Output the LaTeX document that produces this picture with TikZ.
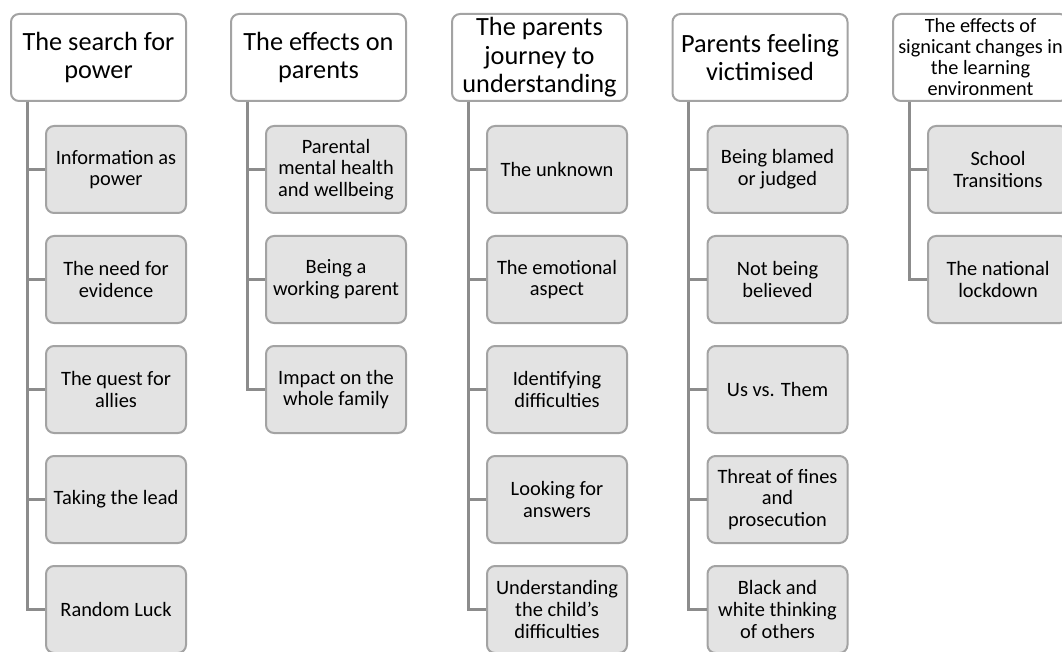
\documentclass[tikz,border=0pt]{standalone}
\usepackage{fontspec}
\setmainfont{Carlito}
\definecolor{bordergray}{HTML}{A3A3A3}
\definecolor{leafgray}{HTML}{E3E3E3}
\definecolor{linegray}{HTML}{8C8C8C}
\tikzset{
  hdr/.style={draw=bordergray, fill=white, rounded corners=8pt, line width=2pt,
    minimum width=175pt, minimum height=87pt, inner sep=1pt, align=center,
    font=\fontsize{26.3}{28.5}\selectfont},
  hdrsmall/.style={hdr, font=\fontsize{20.3}{21}\selectfont},
  leaf/.style={draw=bordergray, fill=leafgray, rounded corners=8pt, line width=2pt,
    minimum width=140pt, minimum height=87pt, inner sep=1pt, align=center,
    font=\fontsize{20.4}{21.7}\selectfont},
  conn/.style={draw=linegray, line width=3pt}
}
\begin{document}
\begin{tikzpicture}[x=1pt,y=-1pt]
\useasboundingbox (0,0) rectangle (1062,652);
\clip (0,0) rectangle (1062,652);
% column 1
\node[hdr] (h1) at (98.5,57.5) {The search for\\power};
\node[leaf] (c11) at (116,169.5) {Information as\\power};
\node[leaf] (c12) at (116,279.5) {The need for\\evidence};
\node[leaf] (c13) at (116,389.5) {The quest for\\allies};
\node[leaf] (c14) at (116,499.5) {Taking the lead};
\node[leaf] (c15) at (116,609.5) {Random Luck};
% column 2
\node[hdr] (h2) at (318.5,57.5) {The effects on\\parents};
\node[leaf] (c21) at (336,169.5) {Parental\\mental health\\and wellbeing};
\node[leaf] (c22) at (336,279.5) {Being a\\working parent};
\node[leaf] (c23) at (336,389.5) {Impact on the\\whole family};
% column 3
\node[hdr] (h3) at (539.5,57.5) {The parents\\journey to\\understanding};
\node[leaf] (c31) at (557,169.5) {The unknown};
\node[leaf] (c32) at (557,279.5) {The emotional\\aspect};
\node[leaf] (c33) at (557,389.5) {Identifying\\difficulties};
\node[leaf] (c34) at (557,499.5) {Looking for\\answers};
\node[leaf] (c35) at (557,609.5) {Understanding\\the child\symbol{"27}s\\difficulties};
% column 4
\node[hdr] (h4) at (760,57.5) {Parents feeling\\victimised};
\node[leaf] (c41) at (777.5,169.5) {Being blamed\\or judged};
\node[leaf] (c42) at (777.5,279.5) {Not being\\believed};
\node[leaf] (c43) at (777.5,389.5) {Us vs. Them};
\node[leaf] (c44) at (777.5,499.5) {Threat of fines\\and\\prosecution};
\node[leaf] (c45) at (777.5,609.5) {Black and\\white thinking\\of others};
% column 5
\node[hdrsmall] (h5) at (980.5,57.5) {The effects of\\signicant changes in\\the learning\\environment};
\node[leaf] (c51) at (998,169.5) {School\\Transitions};
\node[leaf] (c52) at (998,279.5) {The national\\lockdown};
% connectors
\foreach \h/\c in {h1/c11,h1/c12,h1/c13,h1/c14,h1/c15,
                   h2/c21,h2/c22,h2/c23,
                   h3/c31,h3/c32,h3/c33,h3/c34,h3/c35,
                   h4/c41,h4/c42,h4/c43,h4/c44,h4/c45,
                   h5/c51,h5/c52}
  \draw[conn] ([xshift=17pt]\h.south west) |- (\c.west);
\end{tikzpicture}
\end{document}
